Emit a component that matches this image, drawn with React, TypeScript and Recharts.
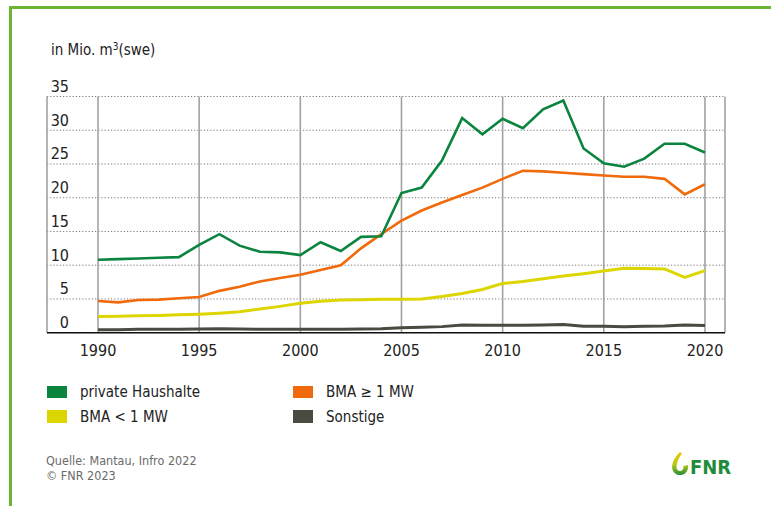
import { LineChart, Line, XAxis, YAxis, CartesianGrid } from "recharts";

const years = [
    1990, 1991, 1992, 1993, 1994, 1995, 1996, 1997, 1998, 1999, 2000, 2001, 2002, 2003, 2004, 2005,
    2006, 2007, 2008, 2009, 2010, 2011, 2012, 2013, 2014, 2015, 2016, 2017, 2018, 2019, 2020,
];

const privateHaushalte = [
    10.8, 10.9, 11.0, 11.1, 11.2, 13.0, 14.6, 12.9, 12.0, 11.9, 11.5, 13.4, 12.1, 14.2, 14.3, 20.7,
    21.5, 25.5, 31.8, 29.4, 31.7, 30.3, 33.1, 34.4, 27.3, 25.1, 24.6, 25.8, 28.0, 28.0, 26.7,
];

const bmaGross = [
    4.7, 4.5, 4.85, 4.9, 5.1, 5.3, 6.2, 6.8, 7.6, 8.1, 8.6, 9.3, 10.0, 12.5, 14.6, 16.6,
    18.1, 19.3, 20.4, 21.5, 22.8, 24.0, 23.9, 23.7, 23.5, 23.3, 23.1, 23.1, 22.8, 20.5, 22.0,
];

const bmaKlein = [
    2.4, 2.45, 2.5, 2.55, 2.65, 2.75, 2.9, 3.1, 3.5, 3.9, 4.35, 4.65, 4.85, 4.9, 4.95, 4.95,
    5.0, 5.35, 5.8, 6.4, 7.3, 7.6, 8.0, 8.4, 8.75, 9.15, 9.55, 9.5, 9.45, 8.2, 9.2,
];

const sonstige = [
    0.45, 0.45, 0.5, 0.5, 0.5, 0.55, 0.6, 0.55, 0.5, 0.5, 0.5, 0.5, 0.5, 0.55, 0.6, 0.75,
    0.8, 0.9, 1.15, 1.1, 1.1, 1.1, 1.15, 1.2, 0.95, 0.95, 0.9, 0.95, 1.0, 1.15, 1.05,
];

const xTicks = [1990, 1995, 2000, 2005, 2010, 2015, 2020];
const yTicks = [0, 5, 10, 15, 20, 25, 30, 35];

const series = [
    { key: "sonstige", name: "Sonstige", color: "#4a4a40", width: 3 },
    { key: "bmaKlein", name: "BMA < 1 MW", color: "#dcd500", width: 3 },
    { key: "bmaGross", name: "BMA ≥ 1 MW", color: "#f0690a", width: 2.6 },
    { key: "privat", name: "private Haushalte", color: "#0a843e", width: 2.6 },
];

const legendRows = [
    ["privat", "bmaGross"],
    ["bmaKlein", "sonstige"],
];

const FONT = '"DejaVu Sans Condensed", "Liberation Sans Narrow", "Roboto", sans-serif';

const data = years.map((year, i) => ({
    year,
    privat: privateHaushalte[i],
    bmaGross: bmaGross[i],
    bmaKlein: bmaKlein[i],
    sonstige: sonstige[i],
}));

// Y-Beschriftung sitzt über der Gitterlinie, rechtsbündig
function renderYTick(props: any) {
    const { x, y, payload } = props;
    return (
        <text
            key={`yt-${payload.value}`}
            x={Number(x)}
            y={Number(y) - 4.5}
            textAnchor="end"
            fontSize={16}
            fontFamily={FONT}
            fill="#222"
        >
            {payload.value}
        </text>
    );
}

function Logo() {
    return (
        <div style={{ position: "absolute", left: 671, top: 452, display: "flex", alignItems: "flex-end" }}>
            <svg width={18} height={25} viewBox="0 0 18 25">
                <defs>
                    <linearGradient id="logoGrad" x1="0" y1="0" x2="0" y2="1">
                        <stop offset="0%" stopColor="#f2c500" />
                        <stop offset="55%" stopColor="#b8c814" />
                        <stop offset="100%" stopColor="#1f8c3a" />
                    </linearGradient>
                </defs>
                <path
                    d="M9 0 C3 6 0 12 1.5 17.5 C3 23 10 25 14.5 21 C16.5 19 17.5 16 17 13 L12.5 14 C12.8 16.5 11.5 19 9 19 C6 19 5 16 5.8 12.5 C6.5 8.5 8.5 4.5 11 1.5 Z"
                    fill="url(#logoGrad)"
                />
            </svg>
            <span
                style={{
                    fontFamily: FONT,
                    fontWeight: 700,
                    fontSize: 20,
                    color: "#1f8c3a",
                    marginLeft: 1,
                    lineHeight: "20px",
                }}
            >
                FNR
            </span>
        </div>
    );
}

export default function App() {
    const colorOf = (k: string) => series.find((s) => s.key === k)!;

    return (
        <div
            style={{
                position: "relative",
                width: 771,
                height: 506,
                background: "#fff",
                overflow: "hidden",
                fontFamily: FONT,
            }}
        >
            <style>{`body{margin:0}`}</style>
            {/* grüner Rahmen oben und links */}
            <div style={{ position: "absolute", left: 9, top: 6, right: 0, height: 3, background: "#6cb533" }} />
            <div style={{ position: "absolute", left: 9, top: 6, bottom: 0, width: 3, background: "#6cb533" }} />

            <div style={{ position: "absolute", left: 51, top: 41, fontSize: 15, color: "#222" }}>
                in Mio. m<sup style={{ fontSize: 10, verticalAlign: "top", lineHeight: "12px" }}>3</sup>(swe)
            </div>

            <div style={{ position: "absolute", left: 0, top: 0 }}>
                <LineChart
                    width={771}
                    height={506}
                    data={data}
                    margin={{ top: 96.5, left: 47, right: 46, bottom: 143.3 }}
                >
                    <CartesianGrid vertical={false} stroke="#7a7a7a" strokeDasharray="1.2 2" />
                    <CartesianGrid horizontal={false} stroke="#a2a2a2" strokeWidth={1.6} />
                    <XAxis
                        dataKey="year"
                        type="number"
                        domain={[1987.48, 2020.99]}
                        ticks={xTicks}
                        height={30}
                        axisLine={{ stroke: "#111", strokeWidth: 1.6 }}
                        tickLine={false}
                        tickSize={0}
                        tickMargin={12}
                        tick={{ fontSize: 16, fontFamily: FONT, fill: "#222" }}
                    />
                    <YAxis
                        type="number"
                        domain={[0, 35]}
                        ticks={yTicks}
                        width={1}
                        mirror
                        axisLine={false}
                        tickLine={false}
                        tickSize={0}
                        tickMargin={22}
                        interval={0}
                        tick={renderYTick}
                    />
                    {series.map((s) => (
                        <Line
                            key={s.key}
                            dataKey={s.key}
                            name={s.name}
                            type="linear"
                            stroke={s.color}
                            strokeWidth={s.width}
                            dot={false}
                            activeDot={false}
                            isAnimationActive={false}
                        />
                    ))}
                </LineChart>
            </div>

            {/* Legende */}
            {legendRows.map((row, r) =>
                row.map((k, c) => {
                    const s = colorOf(k);
                    return (
                        <div
                            key={k}
                            style={{
                                position: "absolute",
                                left: c === 0 ? 47 : 293,
                                top: 382 + r * 24.5,
                                display: "flex",
                                alignItems: "center",
                                height: 20,
                                fontSize: 15,
                                color: "#222",
                            }}
                        >
                            <span style={{ width: 20, height: 12.5, background: s.color, display: "inline-block" }} />
                            <span style={{ marginLeft: 13 }}>{s.name}</span>
                        </div>
                    );
                })
            )}

            <div style={{ position: "absolute", left: 46, top: 453, fontSize: 12.5, color: "#6a6a6a", lineHeight: "15px" }}>
                Quelle: Mantau, Infro 2022
                <br />© FNR 2023
            </div>

            <Logo />
        </div>
    );
}
